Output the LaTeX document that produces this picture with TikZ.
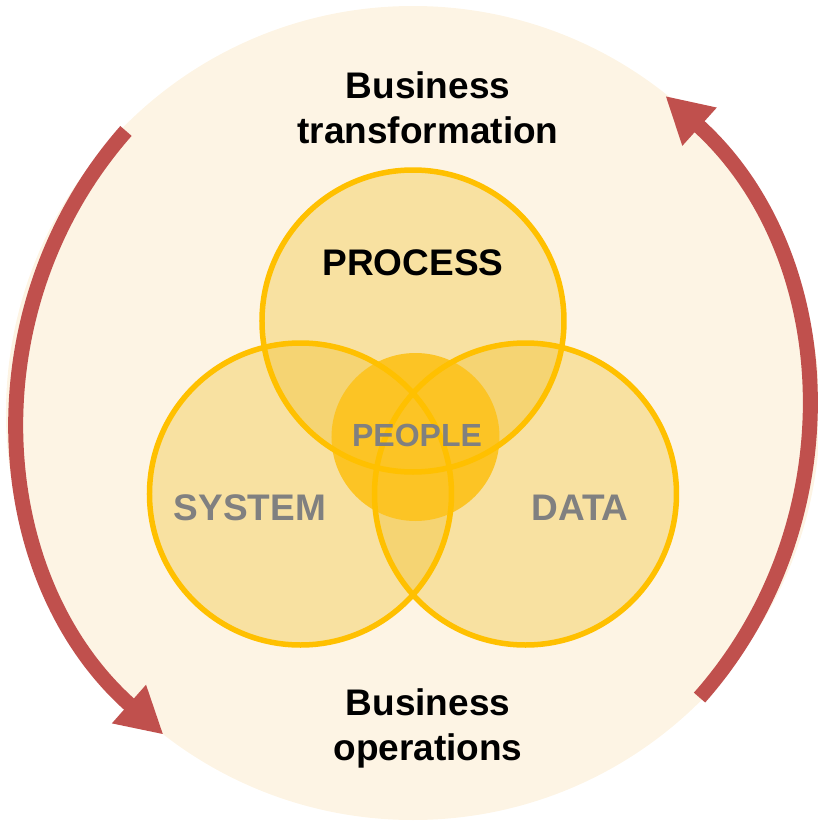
\documentclass[tikz,border=0pt]{standalone}
\usepackage{fontspec}
\setmainfont{Liberation Sans}
\usetikzlibrary{arrows.meta, calc}

\definecolor{cream}{RGB}{253,244,228}
\definecolor{gold}{RGB}{255,192,0}
\definecolor{vennfill}{RGB}{240,185,20}
\definecolor{peoplefill}{RGB}{252,196,37}
\definecolor{cyclered}{RGB}{192,80,77}
\definecolor{labelgray}{RGB}{128,128,128}

\begin{document}
\begin{tikzpicture}[
		x=1pt, y=1pt,
		venn/.style={fill=vennfill, fill opacity=0.32},
		ring/.style={draw=gold, line width=5.5pt},
		bigtext/.style={font=\bfseries\fontsize{37}{45}\selectfont, align=center},
		vennlabel/.style={font=\bfseries\fontsize{37}{45}\selectfont, labelgray},
		cyclearrow/.style={draw=cyclered, line width=15pt, -{Triangle[length=46pt, width=48pt]}}
		]
		
		% --- 1. Background disc ---
		\useasboundingbox (-413,-410) rectangle (405,413);
		\fill[cream] (0,0) circle[radius=407];
		
		% --- 2. Centres of the Venn circles ---
		\coordinate (P) at (0,92);      % process
		\coordinate (S) at (-112.5,-81); % system
		\coordinate (D) at (112.5,-81);  % data
		\coordinate (H) at (2.5,-24);    % people
		
		% --- 3. Fills ---
		\fill[venn] (P) circle[radius=151];
		\fill[venn] (S) circle[radius=151];
		\fill[venn] (D) circle[radius=151];
		\fill[peoplefill] (H) circle[radius=84];
		
		% --- 4. Outlines ---
		\draw[ring] (P) circle[radius=151];
		\draw[ring] (S) circle[radius=151];
		\draw[ring] (D) circle[radius=151];
		
		% --- 5. Labels ---
		\node[font=\bfseries\fontsize{37}{45}\selectfont] (process) at (0,150) {PROCESS};
		\node[vennlabel] (system) at (-163,-95) {SYSTEM};
		\node[vennlabel] (data) at (167,-95) {DATA};
		\node[labelgray, font=\bfseries\fontsize{32}{38}\selectfont] (people) at (4,-22) {PEOPLE};
		
		% base = baseline of the last line
		\node[bigtext, anchor=base] (transform) at (15,270) {Business\\transformation};
		\node[bigtext, anchor=base] (operations) at (15,-347) {Business\\operations};
		
		% --- 6. Cycle arrows ---
		\coordinate (lc) at (34,-1);
		\coordinate (rc) at (-34,-1);
		\draw[cyclearrow] ([shift={(138.6:428)}]lc) arc[start angle=138.6, end angle=228.5, radius=428];
		\draw[cyclearrow] ([shift={(-41.5:428)}]rc) arc[start angle=-41.5, end angle=48, radius=428];
		
	\end{tikzpicture}
\end{document}
